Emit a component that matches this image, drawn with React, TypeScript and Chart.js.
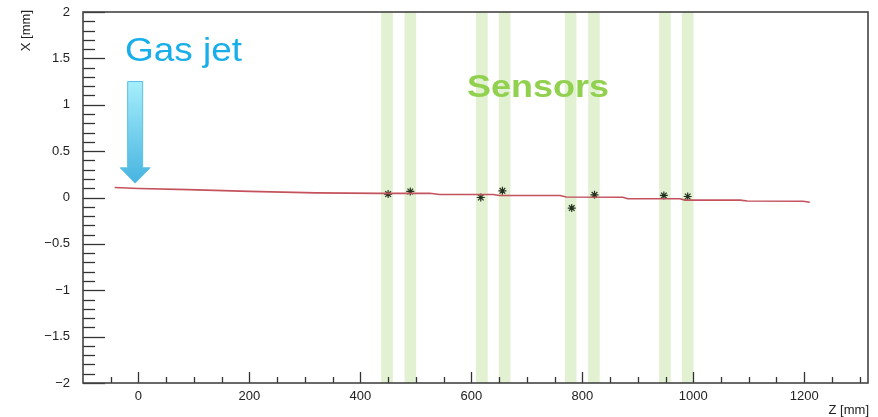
import React, { useEffect, useRef } from "react";
import { Chart, registerables } from "chart.js";

Chart.register(...registerables);

// ---- Data ----
const trackZ = [-43, 0, 90, 200, 320, 435, 525, 543, 639, 651, 760, 771, 873, 882, 976, 985, 1085, 1097, 1198, 1210];
const trackX = [0.108, 0.097, 0.085, 0.066, 0.05, 0.045, 0.045, 0.033, 0.032, 0.022, 0.022, 0.005, 0.003, -0.014, -0.014, -0.028, -0.028, -0.038, -0.04, -0.052];

const hitZ = [450, 490, 617, 656, 781, 822, 947, 990];
const hitX = [0.037, 0.065, 0.0, 0.072, -0.114, 0.029, 0.022, 0.011];

const sensorZ = [448, 490, 619, 660, 779, 821, 949, 990];
const sensorWidthMm = 21;

const xTickValues = [0, 200, 400, 600, 800, 1000, 1200];
const yTickValues = [-2, -1.5, -1, -0.5, 0, 0.5, 1, 1.5, 2];

const gasJetZ = -6;
const gasJetTipX = 0.155;

const FONT = "'Liberation Sans', Arial, Helvetica, sans-serif";

const decorPlugin = {
  id: "decor",
  beforeDatasetsDraw(chart: any) {
    const { ctx, chartArea, scales } = chart;
    const xs = scales.x;
    ctx.save();
    ctx.fillStyle = "rgba(205,232,180,0.6)";
    for (const z of sensorZ) {
      const l = xs.getPixelForValue(z - sensorWidthMm / 2);
      const r = xs.getPixelForValue(z + sensorWidthMm / 2);
      ctx.fillRect(l, chartArea.top, r - l, chartArea.bottom - chartArea.top);
    }
    ctx.restore();
  },
  afterDatasetsDraw(chart: any) {
    const { ctx, chartArea, scales } = chart;
    const xs = scales.x;
    const ys = scales.y;
    ctx.save();
    ctx.strokeStyle = "#333";
    ctx.lineWidth = 1.3;
    // y ticks (inside)
    for (let i = 0; i <= 40; i++) {
      const v = -2 + i * 0.1;
      const y = Math.round(ys.getPixelForValue(v)) + 0.5;
      const major = i % 5 === 0;
      const len = major ? 22 : 12;
      ctx.beginPath();
      ctx.moveTo(chartArea.left, y);
      ctx.lineTo(chartArea.left + len, y);
      ctx.stroke();
    }
    // x ticks (inside)
    for (let v = -50; v <= 1300; v += 50) {
      const x = Math.round(xs.getPixelForValue(v)) + 0.5;
      const major = v % 200 === 0;
      const len = major ? 11 : 6;
      ctx.beginPath();
      ctx.moveTo(x, chartArea.bottom);
      ctx.lineTo(x, chartArea.bottom - len);
      ctx.stroke();
    }
    // frame
    ctx.strokeStyle = "#444";
    ctx.lineWidth = 1.6;
    ctx.strokeRect(chartArea.left, chartArea.top, chartArea.right - chartArea.left, chartArea.bottom - chartArea.top);
    ctx.restore();
  },
  afterDraw(chart: any) {
    const { ctx, scales, chartArea } = chart;
    const xs = scales.x;
    const ys = scales.y;
    ctx.save();
    // axis titles
    ctx.fillStyle = "#222";
    ctx.font = `13px ${FONT}`;
    ctx.textAlign = "right";
    ctx.textBaseline = "alphabetic";
    ctx.fillText("Z [mm]", chartArea.right + 1, 414);
    ctx.save();
    ctx.translate(30, 10);
    ctx.rotate(-Math.PI / 2);
    ctx.textAlign = "right";
    ctx.textBaseline = "alphabetic";
    ctx.fillText("X [mm]", 0, 0);
    ctx.restore();

    // Gas jet arrow
    const cx = xs.getPixelForValue(gasJetZ);
    const tip = ys.getPixelForValue(gasJetTipX);
    const top = tip - 101.6;
    const headStart = tip - 15.3;
    const grad = ctx.createLinearGradient(0, top, 0, tip);
    grad.addColorStop(0, "#a6eefc");
    grad.addColorStop(1, "#47b4e0");
    ctx.beginPath();
    ctx.moveTo(cx - 7.5, top);
    ctx.lineTo(cx + 7.5, top);
    ctx.lineTo(cx + 7.5, headStart);
    ctx.lineTo(cx + 15, headStart);
    ctx.lineTo(cx, tip);
    ctx.lineTo(cx - 15, headStart);
    ctx.lineTo(cx - 7.5, headStart);
    ctx.closePath();
    ctx.fillStyle = grad;
    ctx.fill();
    ctx.strokeStyle = "#5cc0e6";
    ctx.lineWidth = 1;
    ctx.stroke();

    const drawStretched = (text: string, font: string, color: string, left: number, baseline: number, width: number) => {
      ctx.save();
      ctx.font = font;
      ctx.fillStyle = color;
      ctx.textAlign = "left";
      ctx.textBaseline = "alphabetic";
      const w = ctx.measureText(text).width;
      ctx.translate(left, baseline);
      ctx.scale(width / w, 1);
      ctx.fillText(text, 0, 0);
      ctx.restore();
    };
    drawStretched("Gas jet", `33px ${FONT}`, "#17aeea", 125, 61, 117);
    drawStretched("Sensors", `bold 31px ${FONT}`, "#92d050", 467, 97, 142);
    ctx.restore();
  },
};

export default function App() {
  const ref = useRef<HTMLCanvasElement | null>(null);
  useEffect(() => {
    if (!ref.current) return;
    const chart = new Chart(ref.current, {
      type: "scatter",
      data: {
        datasets: [
          {
            label: "track",
            data: trackZ.map((z, i) => ({ x: z, y: trackX[i] })),
            showLine: true,
            borderColor: "#c4525d",
            borderWidth: 1.6,
            pointRadius: 0,
            tension: 0,
          },
          {
            label: "hits",
            data: hitZ.map((z, i) => ({ x: z, y: hitX[i] })),
            showLine: false,
            pointStyle: "star",
            pointRadius: 4,
            borderColor: "#24301f",
            backgroundColor: "#24301f",
            borderWidth: 1.2,
          },
        ],
      },
      options: {
        animation: false,
        responsive: false,
        maintainAspectRatio: false,
        layout: { padding: { top: 12, right: 10, left: 0, bottom: 0 } },
        plugins: { legend: { display: false }, tooltip: { enabled: false } },
        scales: {
          x: {
            type: "linear",
            min: -100,
            max: 1315,
            afterBuildTicks: (s: any) => {
              s.ticks = xTickValues.map((v) => ({ value: v }));
            },
            afterFit: (s: any) => {
              s.height = 34;
              s.paddingLeft = 0;
              s.paddingRight = 0;
            },
            grid: { display: false, drawTicks: false, tickLength: 0 },
            border: { display: false },
            ticks: {
              color: "#222",
              font: { family: FONT, size: 13 },
              padding: 6,
              maxRotation: 0,
              autoSkip: false,
              callback: (v: any) => String(v),
            },
          },
          y: {
            type: "linear",
            min: -2,
            max: 2,
            afterBuildTicks: (s: any) => {
              s.ticks = yTickValues.map((v) => ({ value: v }));
            },
            afterFit: (s: any) => {
              s.width = 83;
              s.paddingTop = 0;
              s.paddingBottom = 0;
            },
            grid: { display: false, drawTicks: false, tickLength: 0 },
            border: { display: false },
            ticks: {
              color: "#222",
              font: { family: FONT, size: 13 },
              padding: 13,
              autoSkip: false,
              callback: (v: any) => String(v).replace("-", "\u2212"),
            },
          },
        },
      },
      plugins: [decorPlugin],
    });
    return () => chart.destroy();
  }, []);
  return (
    <div style={{ position: "absolute", left: 0, top: 0, width: 878, height: 417, background: "#fff" }}>
      <canvas ref={ref} width={878} height={417} style={{ display: "block" }} />
    </div>
  );
}
